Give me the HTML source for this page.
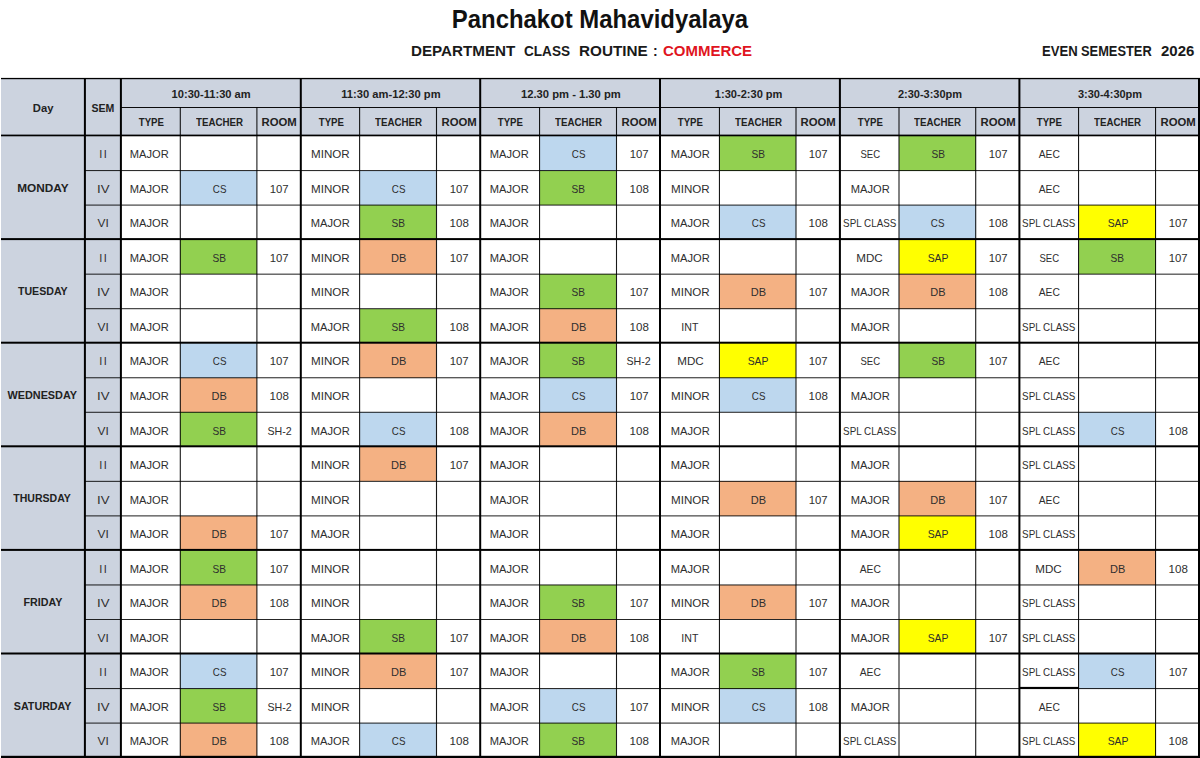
<!DOCTYPE html><html><head><meta charset="utf-8"><title>Class Routine</title><style>
*{margin:0;padding:0;box-sizing:border-box}
html,body{width:1200px;height:758px;overflow:hidden;background:#fff}
body{position:relative;font-family:"Liberation Sans",sans-serif;color:#333}
.a{position:absolute}
.t{position:absolute;display:flex;align-items:center;justify-content:center;white-space:nowrap}
.t span{display:inline-block}
.f{position:absolute}
.r{font-size:11px;color:#2e2e2e}
.b{font-weight:bold;font-size:11px;color:#222}

</style></head><body>
<div class="a" style="left:0;top:5px;width:1200px;text-align:center;font-size:25px;font-weight:bold;color:#111"><span style="display:inline-block;transform:scaleX(0.956)">Panchakot Mahavidyalaya</span></div>
<div class="a" style="left:411.22px;top:42.50px;font-size:14px;font-weight:bold;color:#1a1a1a;white-space:pre;transform-origin:0 0;transform:scaleX(1.085)">DEPARTMENT</div>
<div class="a" style="left:523.73px;top:42.50px;font-size:14px;font-weight:bold;color:#1a1a1a;white-space:pre;transform-origin:0 0;transform:scaleX(0.97)">CLASS</div>
<div class="a" style="left:578.71px;top:42.50px;font-size:14px;font-weight:bold;color:#1a1a1a;white-space:pre;transform-origin:0 0;transform:scaleX(1.09)">ROUTINE</div>
<div class="a" style="left:652.90px;top:42.50px;font-size:14px;font-weight:bold;color:#1a1a1a;white-space:pre;transform-origin:0 0;transform:scaleX(1.0)">:</div>
<div class="a" style="left:663.03px;top:42.50px;font-size:14px;font-weight:bold;color:#E0141E;white-space:pre;transform-origin:0 0;transform:scaleX(1.07)">COMMERCE</div>
<div class="a" style="left:1042.06px;top:42.60px;font-size:14px;font-weight:bold;color:#1a1a1a;white-space:pre;transform-origin:0 0;transform:scaleX(0.936)">EVEN</div>
<div class="a" style="left:1080.78px;top:42.60px;font-size:14px;font-weight:bold;color:#1a1a1a;white-space:pre;transform-origin:0 0;transform:scaleX(0.918)">SEMESTER</div>
<div class="a" style="left:1161.00px;top:42.60px;font-size:14px;font-weight:bold;color:#1a1a1a;white-space:pre;transform-origin:0 0;transform:scaleX(1.07)">2026</div>
<div class="f" style="left:1px;top:79px;width:1198px;height:57px;background:#CCD3DF"></div>
<div class="f" style="left:1px;top:135px;width:120px;height:622px;background:#CCD3DF"></div>
<div class="f" style="left:540px;top:136px;width:76px;height:35px;background:#BDD7EE"></div>
<div class="f" style="left:719px;top:136px;width:77px;height:35px;background:#92D050"></div>
<div class="f" style="left:899px;top:136px;width:77px;height:35px;background:#92D050"></div>
<div class="f" style="left:180px;top:171px;width:77px;height:34px;background:#BDD7EE"></div>
<div class="f" style="left:360px;top:171px;width:76px;height:34px;background:#BDD7EE"></div>
<div class="f" style="left:540px;top:171px;width:76px;height:34px;background:#92D050"></div>
<div class="f" style="left:360px;top:205px;width:76px;height:35px;background:#92D050"></div>
<div class="f" style="left:719px;top:205px;width:77px;height:35px;background:#BDD7EE"></div>
<div class="f" style="left:899px;top:205px;width:77px;height:35px;background:#BDD7EE"></div>
<div class="f" style="left:1079px;top:205px;width:77px;height:35px;background:#FFFF00"></div>
<div class="f" style="left:180px;top:239px;width:77px;height:35px;background:#92D050"></div>
<div class="f" style="left:360px;top:239px;width:76px;height:35px;background:#F4B183"></div>
<div class="f" style="left:899px;top:239px;width:77px;height:35px;background:#FFFF00"></div>
<div class="f" style="left:1079px;top:239px;width:77px;height:35px;background:#92D050"></div>
<div class="f" style="left:540px;top:274px;width:76px;height:35px;background:#92D050"></div>
<div class="f" style="left:719px;top:274px;width:77px;height:35px;background:#F4B183"></div>
<div class="f" style="left:899px;top:274px;width:77px;height:35px;background:#F4B183"></div>
<div class="f" style="left:360px;top:309px;width:76px;height:34px;background:#92D050"></div>
<div class="f" style="left:540px;top:309px;width:76px;height:34px;background:#F4B183"></div>
<div class="f" style="left:180px;top:343px;width:77px;height:35px;background:#BDD7EE"></div>
<div class="f" style="left:360px;top:343px;width:76px;height:35px;background:#F4B183"></div>
<div class="f" style="left:540px;top:343px;width:76px;height:35px;background:#92D050"></div>
<div class="f" style="left:719px;top:343px;width:77px;height:35px;background:#FFFF00"></div>
<div class="f" style="left:899px;top:343px;width:77px;height:35px;background:#92D050"></div>
<div class="f" style="left:180px;top:378px;width:77px;height:34px;background:#F4B183"></div>
<div class="f" style="left:540px;top:378px;width:76px;height:34px;background:#BDD7EE"></div>
<div class="f" style="left:719px;top:378px;width:77px;height:34px;background:#BDD7EE"></div>
<div class="f" style="left:180px;top:412px;width:77px;height:35px;background:#92D050"></div>
<div class="f" style="left:360px;top:412px;width:76px;height:35px;background:#BDD7EE"></div>
<div class="f" style="left:540px;top:412px;width:76px;height:35px;background:#F4B183"></div>
<div class="f" style="left:1079px;top:412px;width:77px;height:35px;background:#BDD7EE"></div>
<div class="f" style="left:360px;top:446px;width:76px;height:35px;background:#F4B183"></div>
<div class="f" style="left:719px;top:481px;width:77px;height:35px;background:#F4B183"></div>
<div class="f" style="left:899px;top:481px;width:77px;height:35px;background:#F4B183"></div>
<div class="f" style="left:180px;top:516px;width:77px;height:34px;background:#F4B183"></div>
<div class="f" style="left:899px;top:516px;width:77px;height:34px;background:#FFFF00"></div>
<div class="f" style="left:180px;top:550px;width:77px;height:35px;background:#92D050"></div>
<div class="f" style="left:1079px;top:550px;width:77px;height:35px;background:#F4B183"></div>
<div class="f" style="left:180px;top:585px;width:77px;height:34px;background:#F4B183"></div>
<div class="f" style="left:540px;top:585px;width:76px;height:34px;background:#92D050"></div>
<div class="f" style="left:719px;top:585px;width:77px;height:34px;background:#F4B183"></div>
<div class="f" style="left:360px;top:619px;width:76px;height:35px;background:#92D050"></div>
<div class="f" style="left:540px;top:619px;width:76px;height:35px;background:#F4B183"></div>
<div class="f" style="left:899px;top:619px;width:77px;height:35px;background:#FFFF00"></div>
<div class="f" style="left:180px;top:654px;width:77px;height:35px;background:#BDD7EE"></div>
<div class="f" style="left:360px;top:654px;width:76px;height:35px;background:#F4B183"></div>
<div class="f" style="left:719px;top:654px;width:77px;height:35px;background:#92D050"></div>
<div class="f" style="left:1079px;top:654px;width:77px;height:35px;background:#BDD7EE"></div>
<div class="f" style="left:180px;top:689px;width:77px;height:34px;background:#92D050"></div>
<div class="f" style="left:540px;top:689px;width:76px;height:34px;background:#BDD7EE"></div>
<div class="f" style="left:719px;top:689px;width:77px;height:34px;background:#BDD7EE"></div>
<div class="f" style="left:180px;top:723px;width:77px;height:35px;background:#F4B183"></div>
<div class="f" style="left:360px;top:723px;width:76px;height:35px;background:#BDD7EE"></div>
<div class="f" style="left:540px;top:723px;width:76px;height:35px;background:#92D050"></div>
<div class="f" style="left:1079px;top:723px;width:77px;height:35px;background:#FFFF00"></div>
<div class="f" style="left:1px;top:77px;width:1199px;height:1px;background:rgba(0,0,0,0.10)"></div>
<div class="f" style="left:1px;top:78px;width:1199px;height:1px;background:rgba(0,0,0,1.00)"></div>
<div class="f" style="left:1px;top:79px;width:1199px;height:1px;background:rgba(0,0,0,0.20)"></div>
<div class="f" style="left:121px;top:107px;width:1077px;height:1px;background:rgba(0,0,0,0.95)"></div>
<div class="f" style="left:1px;top:134px;width:1199px;height:1px;background:rgba(0,0,0,0.40)"></div>
<div class="f" style="left:1px;top:135px;width:1199px;height:1px;background:rgba(0,0,0,1.00)"></div>
<div class="f" style="left:1px;top:136px;width:1199px;height:1px;background:rgba(0,0,0,0.30)"></div>
<div class="f" style="left:85px;top:170px;width:1113px;height:1px;background:rgba(0,0,0,0.82)"></div>
<div class="f" style="left:85px;top:171px;width:1113px;height:1px;background:rgba(0,0,0,0.07)"></div>
<div class="f" style="left:85px;top:204px;width:1113px;height:1px;background:rgba(0,0,0,0.37)"></div>
<div class="f" style="left:85px;top:205px;width:1113px;height:1px;background:rgba(0,0,0,0.52)"></div>
<div class="f" style="left:1px;top:238px;width:1199px;height:1px;background:rgba(0,0,0,0.90)"></div>
<div class="f" style="left:1px;top:239px;width:1199px;height:1px;background:rgba(0,0,0,1.00)"></div>
<div class="f" style="left:1px;top:240px;width:1199px;height:1px;background:rgba(0,0,0,0.10)"></div>
<div class="f" style="left:85px;top:273px;width:1113px;height:1px;background:rgba(0,0,0,0.31)"></div>
<div class="f" style="left:85px;top:274px;width:1113px;height:1px;background:rgba(0,0,0,0.58)"></div>
<div class="f" style="left:85px;top:308px;width:1113px;height:1px;background:rgba(0,0,0,0.71)"></div>
<div class="f" style="left:85px;top:309px;width:1113px;height:1px;background:rgba(0,0,0,0.18)"></div>
<div class="f" style="left:1px;top:341px;width:1199px;height:1px;background:rgba(0,0,0,0.30)"></div>
<div class="f" style="left:1px;top:342px;width:1199px;height:1px;background:rgba(0,0,0,1.00)"></div>
<div class="f" style="left:1px;top:343px;width:1199px;height:1px;background:rgba(0,0,0,0.70)"></div>
<div class="f" style="left:85px;top:377px;width:1113px;height:1px;background:rgba(0,0,0,0.65)"></div>
<div class="f" style="left:85px;top:378px;width:1113px;height:1px;background:rgba(0,0,0,0.24)"></div>
<div class="f" style="left:85px;top:411px;width:1113px;height:1px;background:rgba(0,0,0,0.20)"></div>
<div class="f" style="left:85px;top:412px;width:1113px;height:1px;background:rgba(0,0,0,0.69)"></div>
<div class="f" style="left:1px;top:445px;width:1199px;height:1px;background:rgba(0,0,0,0.70)"></div>
<div class="f" style="left:1px;top:446px;width:1199px;height:1px;background:rgba(0,0,0,1.00)"></div>
<div class="f" style="left:1px;top:447px;width:1199px;height:1px;background:rgba(0,0,0,0.30)"></div>
<div class="f" style="left:85px;top:480px;width:1113px;height:1px;background:rgba(0,0,0,0.14)"></div>
<div class="f" style="left:85px;top:481px;width:1113px;height:1px;background:rgba(0,0,0,0.75)"></div>
<div class="f" style="left:85px;top:515px;width:1113px;height:1px;background:rgba(0,0,0,0.54)"></div>
<div class="f" style="left:85px;top:516px;width:1113px;height:1px;background:rgba(0,0,0,0.35)"></div>
<div class="f" style="left:1px;top:548px;width:1199px;height:1px;background:rgba(0,0,0,0.10)"></div>
<div class="f" style="left:1px;top:549px;width:1199px;height:1px;background:rgba(0,0,0,1.00)"></div>
<div class="f" style="left:1px;top:550px;width:1199px;height:1px;background:rgba(0,0,0,0.90)"></div>
<div class="f" style="left:85px;top:584px;width:1113px;height:1px;background:rgba(0,0,0,0.49)"></div>
<div class="f" style="left:85px;top:585px;width:1113px;height:1px;background:rgba(0,0,0,0.41)"></div>
<div class="f" style="left:85px;top:619px;width:1113px;height:1px;background:rgba(0,0,0,0.85)"></div>
<div class="f" style="left:1px;top:652px;width:1199px;height:1px;background:rgba(0,0,0,0.50)"></div>
<div class="f" style="left:1px;top:653px;width:1199px;height:1px;background:rgba(0,0,0,1.00)"></div>
<div class="f" style="left:1px;top:654px;width:1199px;height:1px;background:rgba(0,0,0,0.50)"></div>
<div class="f" style="left:85px;top:688px;width:1113px;height:1px;background:rgba(0,0,0,0.83)"></div>
<div class="f" style="left:85px;top:689px;width:1113px;height:1px;background:rgba(0,0,0,0.07)"></div>
<div class="f" style="left:85px;top:722px;width:1113px;height:1px;background:rgba(0,0,0,0.37)"></div>
<div class="f" style="left:85px;top:723px;width:1113px;height:1px;background:rgba(0,0,0,0.52)"></div>
<div class="f" style="left:1px;top:755px;width:1199px;height:1px;background:rgba(0,0,0,0.20)"></div>
<div class="f" style="left:1px;top:756px;width:1199px;height:1px;background:rgba(0,0,0,1.00)"></div>
<div class="f" style="left:1px;top:757px;width:1199px;height:1px;background:rgba(0,0,0,1.00)"></div>
<div class="f" style="left:1019px;top:686px;width:60px;height:1px;background:rgba(0,0,0,0.10)"></div>
<div class="f" style="left:1019px;top:687px;width:60px;height:1px;background:rgba(0,0,0,1.00)"></div>
<div class="f" style="left:1019px;top:688px;width:60px;height:1px;background:rgba(0,0,0,0.90)"></div>
<div class="f" style="left:83px;top:78px;width:1px;height:680px;background:rgba(0,0,0,0.10)"></div>
<div class="f" style="left:84px;top:78px;width:1px;height:680px;background:rgba(0,0,0,1.00)"></div>
<div class="f" style="left:85px;top:78px;width:1px;height:680px;background:rgba(0,0,0,0.90)"></div>
<div class="f" style="left:119px;top:78px;width:1px;height:680px;background:rgba(0,0,0,0.10)"></div>
<div class="f" style="left:120px;top:78px;width:1px;height:680px;background:rgba(0,0,0,1.00)"></div>
<div class="f" style="left:121px;top:78px;width:1px;height:680px;background:rgba(0,0,0,0.90)"></div>
<div class="f" style="left:299px;top:78px;width:1px;height:680px;background:rgba(0,0,0,0.20)"></div>
<div class="f" style="left:300px;top:78px;width:1px;height:680px;background:rgba(0,0,0,1.00)"></div>
<div class="f" style="left:301px;top:78px;width:1px;height:680px;background:rgba(0,0,0,0.80)"></div>
<div class="f" style="left:479px;top:78px;width:1px;height:680px;background:rgba(0,0,0,0.80)"></div>
<div class="f" style="left:480px;top:78px;width:1px;height:680px;background:rgba(0,0,0,1.00)"></div>
<div class="f" style="left:481px;top:78px;width:1px;height:680px;background:rgba(0,0,0,0.20)"></div>
<div class="f" style="left:659px;top:78px;width:1px;height:680px;background:rgba(0,0,0,1.00)"></div>
<div class="f" style="left:660px;top:78px;width:1px;height:680px;background:rgba(0,0,0,1.00)"></div>
<div class="f" style="left:838px;top:78px;width:1px;height:680px;background:rgba(0,0,0,0.10)"></div>
<div class="f" style="left:839px;top:78px;width:1px;height:680px;background:rgba(0,0,0,1.00)"></div>
<div class="f" style="left:840px;top:78px;width:1px;height:680px;background:rgba(0,0,0,0.90)"></div>
<div class="f" style="left:1018px;top:78px;width:1px;height:680px;background:rgba(0,0,0,0.60)"></div>
<div class="f" style="left:1019px;top:78px;width:1px;height:680px;background:rgba(0,0,0,1.00)"></div>
<div class="f" style="left:1020px;top:78px;width:1px;height:680px;background:rgba(0,0,0,0.40)"></div>
<div class="f" style="left:1198px;top:78px;width:1px;height:680px;background:rgba(0,0,0,1.00)"></div>
<div class="f" style="left:1199px;top:78px;width:1px;height:680px;background:rgba(0,0,0,1.00)"></div>
<div class="f" style="left:179px;top:107px;width:1px;height:650px;background:rgba(0,0,0,0.23)"></div>
<div class="f" style="left:180px;top:107px;width:1px;height:650px;background:rgba(0,0,0,0.77)"></div>
<div class="f" style="left:256px;top:107px;width:1px;height:650px;background:rgba(0,0,0,0.59)"></div>
<div class="f" style="left:257px;top:107px;width:1px;height:650px;background:rgba(0,0,0,0.40)"></div>
<div class="f" style="left:359px;top:107px;width:1px;height:650px;background:rgba(0,0,0,0.85)"></div>
<div class="f" style="left:360px;top:107px;width:1px;height:650px;background:rgba(0,0,0,0.14)"></div>
<div class="f" style="left:435px;top:107px;width:1px;height:650px;background:rgba(0,0,0,0.05)"></div>
<div class="f" style="left:436px;top:107px;width:1px;height:650px;background:rgba(0,0,0,0.90)"></div>
<div class="f" style="left:437px;top:107px;width:1px;height:650px;background:rgba(0,0,0,0.05)"></div>
<div class="f" style="left:539px;top:107px;width:1px;height:650px;background:rgba(0,0,0,0.90)"></div>
<div class="f" style="left:540px;top:107px;width:1px;height:650px;background:rgba(0,0,0,0.09)"></div>
<div class="f" style="left:615px;top:107px;width:1px;height:650px;background:rgba(0,0,0,0.04)"></div>
<div class="f" style="left:616px;top:107px;width:1px;height:650px;background:rgba(0,0,0,0.90)"></div>
<div class="f" style="left:617px;top:107px;width:1px;height:650px;background:rgba(0,0,0,0.04)"></div>
<div class="f" style="left:718px;top:107px;width:1px;height:650px;background:rgba(0,0,0,0.09)"></div>
<div class="f" style="left:719px;top:107px;width:1px;height:650px;background:rgba(0,0,0,0.90)"></div>
<div class="f" style="left:795px;top:107px;width:1px;height:650px;background:rgba(0,0,0,0.49)"></div>
<div class="f" style="left:796px;top:107px;width:1px;height:650px;background:rgba(0,0,0,0.49)"></div>
<div class="f" style="left:898px;top:107px;width:1px;height:650px;background:rgba(0,0,0,0.49)"></div>
<div class="f" style="left:899px;top:107px;width:1px;height:650px;background:rgba(0,0,0,0.49)"></div>
<div class="f" style="left:975px;top:107px;width:1px;height:650px;background:rgba(0,0,0,0.76)"></div>
<div class="f" style="left:976px;top:107px;width:1px;height:650px;background:rgba(0,0,0,0.23)"></div>
<div class="f" style="left:1078px;top:107px;width:1px;height:650px;background:rgba(0,0,0,0.90)"></div>
<div class="f" style="left:1079px;top:107px;width:1px;height:650px;background:rgba(0,0,0,0.09)"></div>
<div class="f" style="left:1155px;top:107px;width:1px;height:650px;background:rgba(0,0,0,0.90)"></div>
<div class="f" style="left:1156px;top:107px;width:1px;height:650px;background:rgba(0,0,0,0.09)"></div>
<div class="t b" style="left:1.0px;top:79.0px;width:83.0px;height:56.0px"><span style="transform:scaleX(1.02);position:relative;top:0.5px;left:1px">Day</span></div>
<div class="t b" style="left:86.0px;top:79.0px;width:34.0px;height:56.0px"><span style="transform:scaleX(0.96);position:relative;top:0.5px;left:0px">SEM</span></div>
<div class="t b" style="left:121.9px;top:79.0px;width:177.9px;height:28.0px"><span style="transform:scaleX(1.01);position:relative;top:0.5px;left:0px">10:30-11:30 am</span></div>
<div class="t b" style="left:121.9px;top:108.0px;width:58.4px;height:27.0px"><span style="transform:scaleX(0.876);position:relative;top:0px;left:0.4px">TYPE</span></div>
<div class="t b" style="left:180.3px;top:108.0px;width:76.6px;height:27.0px"><span style="transform:scaleX(0.885);position:relative;top:0px;left:0.6px">TEACHER</span></div>
<div class="t b" style="left:256.9px;top:108.0px;width:42.9px;height:27.0px"><span style="transform:scaleX(1.03);position:relative;top:0px;left:1.0px">ROOM</span></div>
<div class="t b" style="left:301.8px;top:79.0px;width:177.4px;height:28.0px"><span style="transform:scaleX(1.016);position:relative;top:0.5px;left:0.25px">11:30 am-12:30 pm</span></div>
<div class="t b" style="left:301.8px;top:108.0px;width:57.8px;height:27.0px"><span style="transform:scaleX(0.876);position:relative;top:0px;left:0.4px">TYPE</span></div>
<div class="t b" style="left:359.6px;top:108.0px;width:76.9px;height:27.0px"><span style="transform:scaleX(0.885);position:relative;top:0px;left:0.6px">TEACHER</span></div>
<div class="t b" style="left:436.5px;top:108.0px;width:42.7px;height:27.0px"><span style="transform:scaleX(1.03);position:relative;top:0px;left:1.0px">ROOM</span></div>
<div class="t b" style="left:481.2px;top:79.0px;width:177.8px;height:28.0px"><span style="transform:scaleX(1.02);position:relative;top:0.5px;left:1.0px">12.30 pm - 1.30 pm</span></div>
<div class="t b" style="left:481.2px;top:108.0px;width:58.3px;height:27.0px"><span style="transform:scaleX(0.876);position:relative;top:0px;left:0.4px">TYPE</span></div>
<div class="t b" style="left:539.5px;top:108.0px;width:77.0px;height:27.0px"><span style="transform:scaleX(0.885);position:relative;top:0px;left:0.6px">TEACHER</span></div>
<div class="t b" style="left:616.5px;top:108.0px;width:42.5px;height:27.0px"><span style="transform:scaleX(1.03);position:relative;top:0px;left:1.0px">ROOM</span></div>
<div class="t b" style="left:661.0px;top:79.0px;width:177.9px;height:28.0px"><span style="transform:scaleX(1.006);position:relative;top:0.5px;left:-1.7px">1:30-2:30 pm</span></div>
<div class="t b" style="left:661.0px;top:108.0px;width:58.5px;height:27.0px"><span style="transform:scaleX(0.876);position:relative;top:0px;left:0.4px">TYPE</span></div>
<div class="t b" style="left:719.5px;top:108.0px;width:76.5px;height:27.0px"><span style="transform:scaleX(0.885);position:relative;top:0px;left:0.6px">TEACHER</span></div>
<div class="t b" style="left:796.0px;top:108.0px;width:42.9px;height:27.0px"><span style="transform:scaleX(1.03);position:relative;top:0px;left:1.0px">ROOM</span></div>
<div class="t b" style="left:840.9px;top:79.0px;width:177.5px;height:28.0px"><span style="position:relative;top:0.5px;left:0.35px">2:30-3:30pm</span></div>
<div class="t b" style="left:840.9px;top:108.0px;width:58.1px;height:27.0px"><span style="transform:scaleX(0.876);position:relative;top:0px;left:0.4px">TYPE</span></div>
<div class="t b" style="left:899.0px;top:108.0px;width:76.7px;height:27.0px"><span style="transform:scaleX(0.885);position:relative;top:0px;left:0.6px">TEACHER</span></div>
<div class="t b" style="left:975.7px;top:108.0px;width:42.7px;height:27.0px"><span style="transform:scaleX(1.03);position:relative;top:0px;left:1.0px">ROOM</span></div>
<div class="t b" style="left:1020.4px;top:79.0px;width:177.6px;height:28.0px"><span style="position:relative;top:0.5px;left:0.85px">3:30-4:30pm</span></div>
<div class="t b" style="left:1020.4px;top:108.0px;width:58.1px;height:27.0px"><span style="transform:scaleX(0.876);position:relative;top:0px;left:0.4px">TYPE</span></div>
<div class="t b" style="left:1078.5px;top:108.0px;width:77.0px;height:27.0px"><span style="transform:scaleX(0.885);position:relative;top:0px;left:0.6px">TEACHER</span></div>
<div class="t b" style="left:1155.5px;top:108.0px;width:42.5px;height:27.0px"><span style="transform:scaleX(1.03);position:relative;top:0px;left:1.0px">ROOM</span></div>
<div class="t b" style="left:1.0px;top:135.5px;width:83.0px;height:103.6px"><span style="transform:scaleX(1.072);position:relative;top:0.3px;left:0px">MONDAY</span></div>
<div class="t b" style="left:1.0px;top:239.1px;width:83.0px;height:103.6px"><span style="transform:scaleX(0.965);position:relative;top:0.3px;left:0px">TUESDAY</span></div>
<div class="t b" style="left:1.0px;top:342.7px;width:83.0px;height:103.6px"><span style="transform:scaleX(0.986);position:relative;top:0.3px;left:0px">WEDNESDAY</span></div>
<div class="t b" style="left:1.0px;top:446.3px;width:83.0px;height:103.6px"><span style="transform:scaleX(0.957);position:relative;top:0.3px;left:0px">THURSDAY</span></div>
<div class="t b" style="left:1.0px;top:549.9px;width:83.0px;height:103.6px"><span style="transform:scaleX(0.974);position:relative;top:0.3px;left:0px">FRIDAY</span></div>
<div class="t b" style="left:1.0px;top:653.5px;width:83.0px;height:103.6px"><span style="transform:scaleX(0.973);position:relative;top:0.3px;left:0px">SATURDAY</span></div>
<div class="t r" style="left:86.0px;top:135.5px;width:34.0px;height:34.5px"><span style="position:relative;top:1.5px;left:0px;letter-spacing:1.5px;margin-right:-1.5px">II</span></div>
<div class="t r" style="left:121.9px;top:135.5px;width:58.4px;height:34.5px"><span style="transform:scaleX(1.01);position:relative;top:1.5px;left:-1.5px">MAJOR</span></div>
<div class="t r" style="left:301.8px;top:135.5px;width:57.8px;height:34.5px"><span style="transform:scaleX(1.054);position:relative;top:1.5px;left:0px">MINOR</span></div>
<div class="t r" style="left:481.2px;top:135.5px;width:58.3px;height:34.5px"><span style="transform:scaleX(1.01);position:relative;top:1.5px;left:-1.3px">MAJOR</span></div>
<div class="t r" style="left:539.5px;top:135.5px;width:77.0px;height:34.5px"><span style="transform:scaleX(0.89);position:relative;top:1.5px;left:0.6px">CS</span></div>
<div class="t r" style="left:616.5px;top:135.5px;width:42.5px;height:34.5px"><span style="transform:scaleX(1.03);position:relative;top:1.5px;left:1.0px">107</span></div>
<div class="t r" style="left:661.0px;top:135.5px;width:58.5px;height:34.5px"><span style="transform:scaleX(1.01);position:relative;top:1.5px;left:0px">MAJOR</span></div>
<div class="t r" style="left:719.5px;top:135.5px;width:76.5px;height:34.5px"><span style="transform:scaleX(0.92);position:relative;top:1.5px;left:0.6px">SB</span></div>
<div class="t r" style="left:796.0px;top:135.5px;width:42.9px;height:34.5px"><span style="transform:scaleX(1.03);position:relative;top:1.5px;left:1.0px">107</span></div>
<div class="t r" style="left:840.9px;top:135.5px;width:58.1px;height:34.5px"><span style="transform:scaleX(0.867);position:relative;top:1.5px;left:0px">SEC</span></div>
<div class="t r" style="left:899.0px;top:135.5px;width:76.7px;height:34.5px"><span style="transform:scaleX(0.92);position:relative;top:1.5px;left:0.6px">SB</span></div>
<div class="t r" style="left:975.7px;top:135.5px;width:42.7px;height:34.5px"><span style="transform:scaleX(1.03);position:relative;top:1.5px;left:1.0px">107</span></div>
<div class="t r" style="left:1020.4px;top:135.5px;width:58.1px;height:34.5px"><span style="transform:scaleX(0.936);position:relative;top:1.5px;left:-0.6px">AEC</span></div>
<div class="t r" style="left:86.0px;top:170.0px;width:34.0px;height:34.5px"><span style="transform:scaleX(1.2);position:relative;top:1.5px;left:0px">IV</span></div>
<div class="t r" style="left:121.9px;top:170.0px;width:58.4px;height:34.5px"><span style="transform:scaleX(1.01);position:relative;top:1.5px;left:-1.5px">MAJOR</span></div>
<div class="t r" style="left:180.3px;top:170.0px;width:76.6px;height:34.5px"><span style="transform:scaleX(0.89);position:relative;top:1.5px;left:0.6px">CS</span></div>
<div class="t r" style="left:256.9px;top:170.0px;width:42.9px;height:34.5px"><span style="transform:scaleX(1.03);position:relative;top:1.5px;left:1.0px">107</span></div>
<div class="t r" style="left:301.8px;top:170.0px;width:57.8px;height:34.5px"><span style="transform:scaleX(1.054);position:relative;top:1.5px;left:0px">MINOR</span></div>
<div class="t r" style="left:359.6px;top:170.0px;width:76.9px;height:34.5px"><span style="transform:scaleX(0.89);position:relative;top:1.5px;left:0.6px">CS</span></div>
<div class="t r" style="left:436.5px;top:170.0px;width:42.7px;height:34.5px"><span style="transform:scaleX(1.03);position:relative;top:1.5px;left:1.0px">107</span></div>
<div class="t r" style="left:481.2px;top:170.0px;width:58.3px;height:34.5px"><span style="transform:scaleX(1.01);position:relative;top:1.5px;left:-1.3px">MAJOR</span></div>
<div class="t r" style="left:539.5px;top:170.0px;width:77.0px;height:34.5px"><span style="transform:scaleX(0.92);position:relative;top:1.5px;left:0.6px">SB</span></div>
<div class="t r" style="left:616.5px;top:170.0px;width:42.5px;height:34.5px"><span style="transform:scaleX(1.05);position:relative;top:1.5px;left:1.0px">108</span></div>
<div class="t r" style="left:661.0px;top:170.0px;width:58.5px;height:34.5px"><span style="transform:scaleX(1.054);position:relative;top:1.5px;left:0px">MINOR</span></div>
<div class="t r" style="left:840.9px;top:170.0px;width:58.1px;height:34.5px"><span style="transform:scaleX(1.01);position:relative;top:1.5px;left:0px">MAJOR</span></div>
<div class="t r" style="left:1020.4px;top:170.0px;width:58.1px;height:34.5px"><span style="transform:scaleX(0.936);position:relative;top:1.5px;left:-0.6px">AEC</span></div>
<div class="t r" style="left:86.0px;top:204.6px;width:34.0px;height:34.5px"><span style="transform:scaleX(1.08);position:relative;top:1.5px;left:0px">VI</span></div>
<div class="t r" style="left:121.9px;top:204.6px;width:58.4px;height:34.5px"><span style="transform:scaleX(1.01);position:relative;top:1.5px;left:-1.5px">MAJOR</span></div>
<div class="t r" style="left:301.8px;top:204.6px;width:57.8px;height:34.5px"><span style="transform:scaleX(1.01);position:relative;top:1.5px;left:0px">MAJOR</span></div>
<div class="t r" style="left:359.6px;top:204.6px;width:76.9px;height:34.5px"><span style="transform:scaleX(0.92);position:relative;top:1.5px;left:0.6px">SB</span></div>
<div class="t r" style="left:436.5px;top:204.6px;width:42.7px;height:34.5px"><span style="transform:scaleX(1.05);position:relative;top:1.5px;left:1.0px">108</span></div>
<div class="t r" style="left:481.2px;top:204.6px;width:58.3px;height:34.5px"><span style="transform:scaleX(1.01);position:relative;top:1.5px;left:-1.3px">MAJOR</span></div>
<div class="t r" style="left:661.0px;top:204.6px;width:58.5px;height:34.5px"><span style="transform:scaleX(1.01);position:relative;top:1.5px;left:0px">MAJOR</span></div>
<div class="t r" style="left:719.5px;top:204.6px;width:76.5px;height:34.5px"><span style="transform:scaleX(0.89);position:relative;top:1.5px;left:0.6px">CS</span></div>
<div class="t r" style="left:796.0px;top:204.6px;width:42.9px;height:34.5px"><span style="transform:scaleX(1.05);position:relative;top:1.5px;left:1.0px">108</span></div>
<div class="t r" style="left:840.9px;top:204.6px;width:58.1px;height:34.5px"><span style="transform:scaleX(0.895);position:relative;top:1.5px;left:0px">SPL CLASS</span></div>
<div class="t r" style="left:899.0px;top:204.6px;width:76.7px;height:34.5px"><span style="transform:scaleX(0.89);position:relative;top:1.5px;left:0.6px">CS</span></div>
<div class="t r" style="left:975.7px;top:204.6px;width:42.7px;height:34.5px"><span style="transform:scaleX(1.05);position:relative;top:1.5px;left:1.0px">108</span></div>
<div class="t r" style="left:1020.4px;top:204.6px;width:58.1px;height:34.5px"><span style="transform:scaleX(0.895);position:relative;top:1.5px;left:-0.6px">SPL CLASS</span></div>
<div class="t r" style="left:1078.5px;top:204.6px;width:77.0px;height:34.5px"><span style="transform:scaleX(0.943);position:relative;top:1.5px;left:0.6px">SAP</span></div>
<div class="t r" style="left:1155.5px;top:204.6px;width:42.5px;height:34.5px"><span style="transform:scaleX(1.03);position:relative;top:1.5px;left:1.0px">107</span></div>
<div class="t r" style="left:86.0px;top:239.1px;width:34.0px;height:34.5px"><span style="position:relative;top:1.5px;left:0px;letter-spacing:1.5px;margin-right:-1.5px">II</span></div>
<div class="t r" style="left:121.9px;top:239.1px;width:58.4px;height:34.5px"><span style="transform:scaleX(1.01);position:relative;top:1.5px;left:-1.5px">MAJOR</span></div>
<div class="t r" style="left:180.3px;top:239.1px;width:76.6px;height:34.5px"><span style="transform:scaleX(0.92);position:relative;top:1.5px;left:0.6px">SB</span></div>
<div class="t r" style="left:256.9px;top:239.1px;width:42.9px;height:34.5px"><span style="transform:scaleX(1.03);position:relative;top:1.5px;left:1.0px">107</span></div>
<div class="t r" style="left:301.8px;top:239.1px;width:57.8px;height:34.5px"><span style="transform:scaleX(1.054);position:relative;top:1.5px;left:0px">MINOR</span></div>
<div class="t r" style="left:359.6px;top:239.1px;width:76.9px;height:34.5px"><span style="position:relative;top:1.5px;left:0.6px">DB</span></div>
<div class="t r" style="left:436.5px;top:239.1px;width:42.7px;height:34.5px"><span style="transform:scaleX(1.03);position:relative;top:1.5px;left:1.0px">107</span></div>
<div class="t r" style="left:481.2px;top:239.1px;width:58.3px;height:34.5px"><span style="transform:scaleX(1.01);position:relative;top:1.5px;left:-1.3px">MAJOR</span></div>
<div class="t r" style="left:661.0px;top:239.1px;width:58.5px;height:34.5px"><span style="transform:scaleX(1.01);position:relative;top:1.5px;left:0px">MAJOR</span></div>
<div class="t r" style="left:840.9px;top:239.1px;width:58.1px;height:34.5px"><span style="transform:scaleX(1.056);position:relative;top:1.5px;left:0px">MDC</span></div>
<div class="t r" style="left:899.0px;top:239.1px;width:76.7px;height:34.5px"><span style="transform:scaleX(0.943);position:relative;top:1.5px;left:0.6px">SAP</span></div>
<div class="t r" style="left:975.7px;top:239.1px;width:42.7px;height:34.5px"><span style="transform:scaleX(1.03);position:relative;top:1.5px;left:1.0px">107</span></div>
<div class="t r" style="left:1020.4px;top:239.1px;width:58.1px;height:34.5px"><span style="transform:scaleX(0.867);position:relative;top:1.5px;left:-0.6px">SEC</span></div>
<div class="t r" style="left:1078.5px;top:239.1px;width:77.0px;height:34.5px"><span style="transform:scaleX(0.92);position:relative;top:1.5px;left:0.6px">SB</span></div>
<div class="t r" style="left:1155.5px;top:239.1px;width:42.5px;height:34.5px"><span style="transform:scaleX(1.03);position:relative;top:1.5px;left:1.0px">107</span></div>
<div class="t r" style="left:86.0px;top:273.6px;width:34.0px;height:34.5px"><span style="transform:scaleX(1.2);position:relative;top:1.5px;left:0px">IV</span></div>
<div class="t r" style="left:121.9px;top:273.6px;width:58.4px;height:34.5px"><span style="transform:scaleX(1.01);position:relative;top:1.5px;left:-1.5px">MAJOR</span></div>
<div class="t r" style="left:301.8px;top:273.6px;width:57.8px;height:34.5px"><span style="transform:scaleX(1.054);position:relative;top:1.5px;left:0px">MINOR</span></div>
<div class="t r" style="left:481.2px;top:273.6px;width:58.3px;height:34.5px"><span style="transform:scaleX(1.01);position:relative;top:1.5px;left:-1.3px">MAJOR</span></div>
<div class="t r" style="left:539.5px;top:273.6px;width:77.0px;height:34.5px"><span style="transform:scaleX(0.92);position:relative;top:1.5px;left:0.6px">SB</span></div>
<div class="t r" style="left:616.5px;top:273.6px;width:42.5px;height:34.5px"><span style="transform:scaleX(1.03);position:relative;top:1.5px;left:1.0px">107</span></div>
<div class="t r" style="left:661.0px;top:273.6px;width:58.5px;height:34.5px"><span style="transform:scaleX(1.054);position:relative;top:1.5px;left:0px">MINOR</span></div>
<div class="t r" style="left:719.5px;top:273.6px;width:76.5px;height:34.5px"><span style="position:relative;top:1.5px;left:0.6px">DB</span></div>
<div class="t r" style="left:796.0px;top:273.6px;width:42.9px;height:34.5px"><span style="transform:scaleX(1.03);position:relative;top:1.5px;left:1.0px">107</span></div>
<div class="t r" style="left:840.9px;top:273.6px;width:58.1px;height:34.5px"><span style="transform:scaleX(1.01);position:relative;top:1.5px;left:0px">MAJOR</span></div>
<div class="t r" style="left:899.0px;top:273.6px;width:76.7px;height:34.5px"><span style="position:relative;top:1.5px;left:0.6px">DB</span></div>
<div class="t r" style="left:975.7px;top:273.6px;width:42.7px;height:34.5px"><span style="transform:scaleX(1.05);position:relative;top:1.5px;left:1.0px">108</span></div>
<div class="t r" style="left:1020.4px;top:273.6px;width:58.1px;height:34.5px"><span style="transform:scaleX(0.936);position:relative;top:1.5px;left:-0.6px">AEC</span></div>
<div class="t r" style="left:86.0px;top:308.2px;width:34.0px;height:34.5px"><span style="transform:scaleX(1.08);position:relative;top:1.5px;left:0px">VI</span></div>
<div class="t r" style="left:121.9px;top:308.2px;width:58.4px;height:34.5px"><span style="transform:scaleX(1.01);position:relative;top:1.5px;left:-1.5px">MAJOR</span></div>
<div class="t r" style="left:301.8px;top:308.2px;width:57.8px;height:34.5px"><span style="transform:scaleX(1.01);position:relative;top:1.5px;left:0px">MAJOR</span></div>
<div class="t r" style="left:359.6px;top:308.2px;width:76.9px;height:34.5px"><span style="transform:scaleX(0.92);position:relative;top:1.5px;left:0.6px">SB</span></div>
<div class="t r" style="left:436.5px;top:308.2px;width:42.7px;height:34.5px"><span style="transform:scaleX(1.05);position:relative;top:1.5px;left:1.0px">108</span></div>
<div class="t r" style="left:481.2px;top:308.2px;width:58.3px;height:34.5px"><span style="transform:scaleX(1.01);position:relative;top:1.5px;left:-1.3px">MAJOR</span></div>
<div class="t r" style="left:539.5px;top:308.2px;width:77.0px;height:34.5px"><span style="position:relative;top:1.5px;left:0.6px">DB</span></div>
<div class="t r" style="left:616.5px;top:308.2px;width:42.5px;height:34.5px"><span style="transform:scaleX(1.05);position:relative;top:1.5px;left:1.0px">108</span></div>
<div class="t r" style="left:661.0px;top:308.2px;width:58.5px;height:34.5px"><span style="transform:scaleX(0.96);position:relative;top:1.5px;left:0px">INT</span></div>
<div class="t r" style="left:840.9px;top:308.2px;width:58.1px;height:34.5px"><span style="transform:scaleX(1.01);position:relative;top:1.5px;left:0px">MAJOR</span></div>
<div class="t r" style="left:1020.4px;top:308.2px;width:58.1px;height:34.5px"><span style="transform:scaleX(0.895);position:relative;top:1.5px;left:-0.6px">SPL CLASS</span></div>
<div class="t r" style="left:86.0px;top:342.7px;width:34.0px;height:34.5px"><span style="position:relative;top:1.5px;left:0px;letter-spacing:1.5px;margin-right:-1.5px">II</span></div>
<div class="t r" style="left:121.9px;top:342.7px;width:58.4px;height:34.5px"><span style="transform:scaleX(1.01);position:relative;top:1.5px;left:-1.5px">MAJOR</span></div>
<div class="t r" style="left:180.3px;top:342.7px;width:76.6px;height:34.5px"><span style="transform:scaleX(0.89);position:relative;top:1.5px;left:0.6px">CS</span></div>
<div class="t r" style="left:256.9px;top:342.7px;width:42.9px;height:34.5px"><span style="transform:scaleX(1.03);position:relative;top:1.5px;left:1.0px">107</span></div>
<div class="t r" style="left:301.8px;top:342.7px;width:57.8px;height:34.5px"><span style="transform:scaleX(1.054);position:relative;top:1.5px;left:0px">MINOR</span></div>
<div class="t r" style="left:359.6px;top:342.7px;width:76.9px;height:34.5px"><span style="position:relative;top:1.5px;left:0.6px">DB</span></div>
<div class="t r" style="left:436.5px;top:342.7px;width:42.7px;height:34.5px"><span style="transform:scaleX(1.03);position:relative;top:1.5px;left:1.0px">107</span></div>
<div class="t r" style="left:481.2px;top:342.7px;width:58.3px;height:34.5px"><span style="transform:scaleX(1.01);position:relative;top:1.5px;left:-1.3px">MAJOR</span></div>
<div class="t r" style="left:539.5px;top:342.7px;width:77.0px;height:34.5px"><span style="transform:scaleX(0.92);position:relative;top:1.5px;left:0.6px">SB</span></div>
<div class="t r" style="left:616.5px;top:342.7px;width:42.5px;height:34.5px"><span style="transform:scaleX(0.967);position:relative;top:1.5px;left:1.0px">SH-2</span></div>
<div class="t r" style="left:661.0px;top:342.7px;width:58.5px;height:34.5px"><span style="transform:scaleX(1.056);position:relative;top:1.5px;left:0px">MDC</span></div>
<div class="t r" style="left:719.5px;top:342.7px;width:76.5px;height:34.5px"><span style="transform:scaleX(0.943);position:relative;top:1.5px;left:0.6px">SAP</span></div>
<div class="t r" style="left:796.0px;top:342.7px;width:42.9px;height:34.5px"><span style="transform:scaleX(1.03);position:relative;top:1.5px;left:1.0px">107</span></div>
<div class="t r" style="left:840.9px;top:342.7px;width:58.1px;height:34.5px"><span style="transform:scaleX(0.867);position:relative;top:1.5px;left:0px">SEC</span></div>
<div class="t r" style="left:899.0px;top:342.7px;width:76.7px;height:34.5px"><span style="transform:scaleX(0.92);position:relative;top:1.5px;left:0.6px">SB</span></div>
<div class="t r" style="left:975.7px;top:342.7px;width:42.7px;height:34.5px"><span style="transform:scaleX(1.03);position:relative;top:1.5px;left:1.0px">107</span></div>
<div class="t r" style="left:1020.4px;top:342.7px;width:58.1px;height:34.5px"><span style="transform:scaleX(0.936);position:relative;top:1.5px;left:-0.6px">AEC</span></div>
<div class="t r" style="left:86.0px;top:377.2px;width:34.0px;height:34.5px"><span style="transform:scaleX(1.2);position:relative;top:1.5px;left:0px">IV</span></div>
<div class="t r" style="left:121.9px;top:377.2px;width:58.4px;height:34.5px"><span style="transform:scaleX(1.01);position:relative;top:1.5px;left:-1.5px">MAJOR</span></div>
<div class="t r" style="left:180.3px;top:377.2px;width:76.6px;height:34.5px"><span style="position:relative;top:1.5px;left:0.6px">DB</span></div>
<div class="t r" style="left:256.9px;top:377.2px;width:42.9px;height:34.5px"><span style="transform:scaleX(1.05);position:relative;top:1.5px;left:1.0px">108</span></div>
<div class="t r" style="left:301.8px;top:377.2px;width:57.8px;height:34.5px"><span style="transform:scaleX(1.054);position:relative;top:1.5px;left:0px">MINOR</span></div>
<div class="t r" style="left:481.2px;top:377.2px;width:58.3px;height:34.5px"><span style="transform:scaleX(1.01);position:relative;top:1.5px;left:-1.3px">MAJOR</span></div>
<div class="t r" style="left:539.5px;top:377.2px;width:77.0px;height:34.5px"><span style="transform:scaleX(0.89);position:relative;top:1.5px;left:0.6px">CS</span></div>
<div class="t r" style="left:616.5px;top:377.2px;width:42.5px;height:34.5px"><span style="transform:scaleX(1.03);position:relative;top:1.5px;left:1.0px">107</span></div>
<div class="t r" style="left:661.0px;top:377.2px;width:58.5px;height:34.5px"><span style="transform:scaleX(1.054);position:relative;top:1.5px;left:0px">MINOR</span></div>
<div class="t r" style="left:719.5px;top:377.2px;width:76.5px;height:34.5px"><span style="transform:scaleX(0.89);position:relative;top:1.5px;left:0.6px">CS</span></div>
<div class="t r" style="left:796.0px;top:377.2px;width:42.9px;height:34.5px"><span style="transform:scaleX(1.05);position:relative;top:1.5px;left:1.0px">108</span></div>
<div class="t r" style="left:840.9px;top:377.2px;width:58.1px;height:34.5px"><span style="transform:scaleX(1.01);position:relative;top:1.5px;left:0px">MAJOR</span></div>
<div class="t r" style="left:1020.4px;top:377.2px;width:58.1px;height:34.5px"><span style="transform:scaleX(0.895);position:relative;top:1.5px;left:-0.6px">SPL CLASS</span></div>
<div class="t r" style="left:86.0px;top:411.8px;width:34.0px;height:34.5px"><span style="transform:scaleX(1.08);position:relative;top:1.5px;left:0px">VI</span></div>
<div class="t r" style="left:121.9px;top:411.8px;width:58.4px;height:34.5px"><span style="transform:scaleX(1.01);position:relative;top:1.5px;left:-1.5px">MAJOR</span></div>
<div class="t r" style="left:180.3px;top:411.8px;width:76.6px;height:34.5px"><span style="transform:scaleX(0.92);position:relative;top:1.5px;left:0.6px">SB</span></div>
<div class="t r" style="left:256.9px;top:411.8px;width:42.9px;height:34.5px"><span style="transform:scaleX(0.967);position:relative;top:1.5px;left:1.0px">SH-2</span></div>
<div class="t r" style="left:301.8px;top:411.8px;width:57.8px;height:34.5px"><span style="transform:scaleX(1.01);position:relative;top:1.5px;left:0px">MAJOR</span></div>
<div class="t r" style="left:359.6px;top:411.8px;width:76.9px;height:34.5px"><span style="transform:scaleX(0.89);position:relative;top:1.5px;left:0.6px">CS</span></div>
<div class="t r" style="left:436.5px;top:411.8px;width:42.7px;height:34.5px"><span style="transform:scaleX(1.05);position:relative;top:1.5px;left:1.0px">108</span></div>
<div class="t r" style="left:481.2px;top:411.8px;width:58.3px;height:34.5px"><span style="transform:scaleX(1.01);position:relative;top:1.5px;left:-1.3px">MAJOR</span></div>
<div class="t r" style="left:539.5px;top:411.8px;width:77.0px;height:34.5px"><span style="position:relative;top:1.5px;left:0.6px">DB</span></div>
<div class="t r" style="left:616.5px;top:411.8px;width:42.5px;height:34.5px"><span style="transform:scaleX(1.05);position:relative;top:1.5px;left:1.0px">108</span></div>
<div class="t r" style="left:661.0px;top:411.8px;width:58.5px;height:34.5px"><span style="transform:scaleX(1.01);position:relative;top:1.5px;left:0px">MAJOR</span></div>
<div class="t r" style="left:840.9px;top:411.8px;width:58.1px;height:34.5px"><span style="transform:scaleX(0.895);position:relative;top:1.5px;left:0px">SPL CLASS</span></div>
<div class="t r" style="left:1020.4px;top:411.8px;width:58.1px;height:34.5px"><span style="transform:scaleX(0.895);position:relative;top:1.5px;left:-0.6px">SPL CLASS</span></div>
<div class="t r" style="left:1078.5px;top:411.8px;width:77.0px;height:34.5px"><span style="transform:scaleX(0.89);position:relative;top:1.5px;left:0.6px">CS</span></div>
<div class="t r" style="left:1155.5px;top:411.8px;width:42.5px;height:34.5px"><span style="transform:scaleX(1.05);position:relative;top:1.5px;left:1.0px">108</span></div>
<div class="t r" style="left:86.0px;top:446.3px;width:34.0px;height:34.5px"><span style="position:relative;top:1.5px;left:0px;letter-spacing:1.5px;margin-right:-1.5px">II</span></div>
<div class="t r" style="left:121.9px;top:446.3px;width:58.4px;height:34.5px"><span style="transform:scaleX(1.01);position:relative;top:1.5px;left:-1.5px">MAJOR</span></div>
<div class="t r" style="left:301.8px;top:446.3px;width:57.8px;height:34.5px"><span style="transform:scaleX(1.054);position:relative;top:1.5px;left:0px">MINOR</span></div>
<div class="t r" style="left:359.6px;top:446.3px;width:76.9px;height:34.5px"><span style="position:relative;top:1.5px;left:0.6px">DB</span></div>
<div class="t r" style="left:436.5px;top:446.3px;width:42.7px;height:34.5px"><span style="transform:scaleX(1.03);position:relative;top:1.5px;left:1.0px">107</span></div>
<div class="t r" style="left:481.2px;top:446.3px;width:58.3px;height:34.5px"><span style="transform:scaleX(1.01);position:relative;top:1.5px;left:-1.3px">MAJOR</span></div>
<div class="t r" style="left:661.0px;top:446.3px;width:58.5px;height:34.5px"><span style="transform:scaleX(1.01);position:relative;top:1.5px;left:0px">MAJOR</span></div>
<div class="t r" style="left:840.9px;top:446.3px;width:58.1px;height:34.5px"><span style="transform:scaleX(1.01);position:relative;top:1.5px;left:0px">MAJOR</span></div>
<div class="t r" style="left:1020.4px;top:446.3px;width:58.1px;height:34.5px"><span style="transform:scaleX(0.895);position:relative;top:1.5px;left:-0.6px">SPL CLASS</span></div>
<div class="t r" style="left:86.0px;top:480.8px;width:34.0px;height:34.5px"><span style="transform:scaleX(1.2);position:relative;top:1.5px;left:0px">IV</span></div>
<div class="t r" style="left:121.9px;top:480.8px;width:58.4px;height:34.5px"><span style="transform:scaleX(1.01);position:relative;top:1.5px;left:-1.5px">MAJOR</span></div>
<div class="t r" style="left:301.8px;top:480.8px;width:57.8px;height:34.5px"><span style="transform:scaleX(1.054);position:relative;top:1.5px;left:0px">MINOR</span></div>
<div class="t r" style="left:481.2px;top:480.8px;width:58.3px;height:34.5px"><span style="transform:scaleX(1.01);position:relative;top:1.5px;left:-1.3px">MAJOR</span></div>
<div class="t r" style="left:661.0px;top:480.8px;width:58.5px;height:34.5px"><span style="transform:scaleX(1.054);position:relative;top:1.5px;left:0px">MINOR</span></div>
<div class="t r" style="left:719.5px;top:480.8px;width:76.5px;height:34.5px"><span style="position:relative;top:1.5px;left:0.6px">DB</span></div>
<div class="t r" style="left:796.0px;top:480.8px;width:42.9px;height:34.5px"><span style="transform:scaleX(1.03);position:relative;top:1.5px;left:1.0px">107</span></div>
<div class="t r" style="left:840.9px;top:480.8px;width:58.1px;height:34.5px"><span style="transform:scaleX(1.01);position:relative;top:1.5px;left:0px">MAJOR</span></div>
<div class="t r" style="left:899.0px;top:480.8px;width:76.7px;height:34.5px"><span style="position:relative;top:1.5px;left:0.6px">DB</span></div>
<div class="t r" style="left:975.7px;top:480.8px;width:42.7px;height:34.5px"><span style="transform:scaleX(1.03);position:relative;top:1.5px;left:1.0px">107</span></div>
<div class="t r" style="left:1020.4px;top:480.8px;width:58.1px;height:34.5px"><span style="transform:scaleX(0.936);position:relative;top:1.5px;left:-0.6px">AEC</span></div>
<div class="t r" style="left:86.0px;top:515.4px;width:34.0px;height:34.5px"><span style="transform:scaleX(1.08);position:relative;top:1.5px;left:0px">VI</span></div>
<div class="t r" style="left:121.9px;top:515.4px;width:58.4px;height:34.5px"><span style="transform:scaleX(1.01);position:relative;top:1.5px;left:-1.5px">MAJOR</span></div>
<div class="t r" style="left:180.3px;top:515.4px;width:76.6px;height:34.5px"><span style="position:relative;top:1.5px;left:0.6px">DB</span></div>
<div class="t r" style="left:256.9px;top:515.4px;width:42.9px;height:34.5px"><span style="transform:scaleX(1.03);position:relative;top:1.5px;left:1.0px">107</span></div>
<div class="t r" style="left:301.8px;top:515.4px;width:57.8px;height:34.5px"><span style="transform:scaleX(1.01);position:relative;top:1.5px;left:0px">MAJOR</span></div>
<div class="t r" style="left:481.2px;top:515.4px;width:58.3px;height:34.5px"><span style="transform:scaleX(1.01);position:relative;top:1.5px;left:-1.3px">MAJOR</span></div>
<div class="t r" style="left:661.0px;top:515.4px;width:58.5px;height:34.5px"><span style="transform:scaleX(1.01);position:relative;top:1.5px;left:0px">MAJOR</span></div>
<div class="t r" style="left:840.9px;top:515.4px;width:58.1px;height:34.5px"><span style="transform:scaleX(1.01);position:relative;top:1.5px;left:0px">MAJOR</span></div>
<div class="t r" style="left:899.0px;top:515.4px;width:76.7px;height:34.5px"><span style="transform:scaleX(0.943);position:relative;top:1.5px;left:0.6px">SAP</span></div>
<div class="t r" style="left:975.7px;top:515.4px;width:42.7px;height:34.5px"><span style="transform:scaleX(1.05);position:relative;top:1.5px;left:1.0px">108</span></div>
<div class="t r" style="left:1020.4px;top:515.4px;width:58.1px;height:34.5px"><span style="transform:scaleX(0.895);position:relative;top:1.5px;left:-0.6px">SPL CLASS</span></div>
<div class="t r" style="left:86.0px;top:549.9px;width:34.0px;height:34.5px"><span style="position:relative;top:1.5px;left:0px;letter-spacing:1.5px;margin-right:-1.5px">II</span></div>
<div class="t r" style="left:121.9px;top:549.9px;width:58.4px;height:34.5px"><span style="transform:scaleX(1.01);position:relative;top:1.5px;left:-1.5px">MAJOR</span></div>
<div class="t r" style="left:180.3px;top:549.9px;width:76.6px;height:34.5px"><span style="transform:scaleX(0.92);position:relative;top:1.5px;left:0.6px">SB</span></div>
<div class="t r" style="left:256.9px;top:549.9px;width:42.9px;height:34.5px"><span style="transform:scaleX(1.03);position:relative;top:1.5px;left:1.0px">107</span></div>
<div class="t r" style="left:301.8px;top:549.9px;width:57.8px;height:34.5px"><span style="transform:scaleX(1.054);position:relative;top:1.5px;left:0px">MINOR</span></div>
<div class="t r" style="left:481.2px;top:549.9px;width:58.3px;height:34.5px"><span style="transform:scaleX(1.01);position:relative;top:1.5px;left:-1.3px">MAJOR</span></div>
<div class="t r" style="left:661.0px;top:549.9px;width:58.5px;height:34.5px"><span style="transform:scaleX(1.01);position:relative;top:1.5px;left:0px">MAJOR</span></div>
<div class="t r" style="left:840.9px;top:549.9px;width:58.1px;height:34.5px"><span style="transform:scaleX(0.936);position:relative;top:1.5px;left:0px">AEC</span></div>
<div class="t r" style="left:1020.4px;top:549.9px;width:58.1px;height:34.5px"><span style="transform:scaleX(1.056);position:relative;top:1.5px;left:-0.6px">MDC</span></div>
<div class="t r" style="left:1078.5px;top:549.9px;width:77.0px;height:34.5px"><span style="position:relative;top:1.5px;left:0.6px">DB</span></div>
<div class="t r" style="left:1155.5px;top:549.9px;width:42.5px;height:34.5px"><span style="transform:scaleX(1.05);position:relative;top:1.5px;left:1.0px">108</span></div>
<div class="t r" style="left:86.0px;top:584.4px;width:34.0px;height:34.5px"><span style="transform:scaleX(1.2);position:relative;top:1.5px;left:0px">IV</span></div>
<div class="t r" style="left:121.9px;top:584.4px;width:58.4px;height:34.5px"><span style="transform:scaleX(1.01);position:relative;top:1.5px;left:-1.5px">MAJOR</span></div>
<div class="t r" style="left:180.3px;top:584.4px;width:76.6px;height:34.5px"><span style="position:relative;top:1.5px;left:0.6px">DB</span></div>
<div class="t r" style="left:256.9px;top:584.4px;width:42.9px;height:34.5px"><span style="transform:scaleX(1.05);position:relative;top:1.5px;left:1.0px">108</span></div>
<div class="t r" style="left:301.8px;top:584.4px;width:57.8px;height:34.5px"><span style="transform:scaleX(1.054);position:relative;top:1.5px;left:0px">MINOR</span></div>
<div class="t r" style="left:481.2px;top:584.4px;width:58.3px;height:34.5px"><span style="transform:scaleX(1.01);position:relative;top:1.5px;left:-1.3px">MAJOR</span></div>
<div class="t r" style="left:539.5px;top:584.4px;width:77.0px;height:34.5px"><span style="transform:scaleX(0.92);position:relative;top:1.5px;left:0.6px">SB</span></div>
<div class="t r" style="left:616.5px;top:584.4px;width:42.5px;height:34.5px"><span style="transform:scaleX(1.03);position:relative;top:1.5px;left:1.0px">107</span></div>
<div class="t r" style="left:661.0px;top:584.4px;width:58.5px;height:34.5px"><span style="transform:scaleX(1.054);position:relative;top:1.5px;left:0px">MINOR</span></div>
<div class="t r" style="left:719.5px;top:584.4px;width:76.5px;height:34.5px"><span style="position:relative;top:1.5px;left:0.6px">DB</span></div>
<div class="t r" style="left:796.0px;top:584.4px;width:42.9px;height:34.5px"><span style="transform:scaleX(1.03);position:relative;top:1.5px;left:1.0px">107</span></div>
<div class="t r" style="left:840.9px;top:584.4px;width:58.1px;height:34.5px"><span style="transform:scaleX(1.01);position:relative;top:1.5px;left:0px">MAJOR</span></div>
<div class="t r" style="left:1020.4px;top:584.4px;width:58.1px;height:34.5px"><span style="transform:scaleX(0.895);position:relative;top:1.5px;left:-0.6px">SPL CLASS</span></div>
<div class="t r" style="left:86.0px;top:619.0px;width:34.0px;height:34.5px"><span style="transform:scaleX(1.08);position:relative;top:1.5px;left:0px">VI</span></div>
<div class="t r" style="left:121.9px;top:619.0px;width:58.4px;height:34.5px"><span style="transform:scaleX(1.01);position:relative;top:1.5px;left:-1.5px">MAJOR</span></div>
<div class="t r" style="left:301.8px;top:619.0px;width:57.8px;height:34.5px"><span style="transform:scaleX(1.01);position:relative;top:1.5px;left:0px">MAJOR</span></div>
<div class="t r" style="left:359.6px;top:619.0px;width:76.9px;height:34.5px"><span style="transform:scaleX(0.92);position:relative;top:1.5px;left:0.6px">SB</span></div>
<div class="t r" style="left:436.5px;top:619.0px;width:42.7px;height:34.5px"><span style="transform:scaleX(1.03);position:relative;top:1.5px;left:1.0px">107</span></div>
<div class="t r" style="left:481.2px;top:619.0px;width:58.3px;height:34.5px"><span style="transform:scaleX(1.01);position:relative;top:1.5px;left:-1.3px">MAJOR</span></div>
<div class="t r" style="left:539.5px;top:619.0px;width:77.0px;height:34.5px"><span style="position:relative;top:1.5px;left:0.6px">DB</span></div>
<div class="t r" style="left:616.5px;top:619.0px;width:42.5px;height:34.5px"><span style="transform:scaleX(1.05);position:relative;top:1.5px;left:1.0px">108</span></div>
<div class="t r" style="left:661.0px;top:619.0px;width:58.5px;height:34.5px"><span style="transform:scaleX(0.96);position:relative;top:1.5px;left:0px">INT</span></div>
<div class="t r" style="left:840.9px;top:619.0px;width:58.1px;height:34.5px"><span style="transform:scaleX(1.01);position:relative;top:1.5px;left:0px">MAJOR</span></div>
<div class="t r" style="left:899.0px;top:619.0px;width:76.7px;height:34.5px"><span style="transform:scaleX(0.943);position:relative;top:1.5px;left:0.6px">SAP</span></div>
<div class="t r" style="left:975.7px;top:619.0px;width:42.7px;height:34.5px"><span style="transform:scaleX(1.03);position:relative;top:1.5px;left:1.0px">107</span></div>
<div class="t r" style="left:1020.4px;top:619.0px;width:58.1px;height:34.5px"><span style="transform:scaleX(0.895);position:relative;top:1.5px;left:-0.6px">SPL CLASS</span></div>
<div class="t r" style="left:86.0px;top:653.5px;width:34.0px;height:34.5px"><span style="position:relative;top:1.5px;left:0px;letter-spacing:1.5px;margin-right:-1.5px">II</span></div>
<div class="t r" style="left:121.9px;top:653.5px;width:58.4px;height:34.5px"><span style="transform:scaleX(1.01);position:relative;top:1.5px;left:-1.5px">MAJOR</span></div>
<div class="t r" style="left:180.3px;top:653.5px;width:76.6px;height:34.5px"><span style="transform:scaleX(0.89);position:relative;top:1.5px;left:0.6px">CS</span></div>
<div class="t r" style="left:256.9px;top:653.5px;width:42.9px;height:34.5px"><span style="transform:scaleX(1.03);position:relative;top:1.5px;left:1.0px">107</span></div>
<div class="t r" style="left:301.8px;top:653.5px;width:57.8px;height:34.5px"><span style="transform:scaleX(1.054);position:relative;top:1.5px;left:0px">MINOR</span></div>
<div class="t r" style="left:359.6px;top:653.5px;width:76.9px;height:34.5px"><span style="position:relative;top:1.5px;left:0.6px">DB</span></div>
<div class="t r" style="left:436.5px;top:653.5px;width:42.7px;height:34.5px"><span style="transform:scaleX(1.03);position:relative;top:1.5px;left:1.0px">107</span></div>
<div class="t r" style="left:481.2px;top:653.5px;width:58.3px;height:34.5px"><span style="transform:scaleX(1.01);position:relative;top:1.5px;left:-1.3px">MAJOR</span></div>
<div class="t r" style="left:661.0px;top:653.5px;width:58.5px;height:34.5px"><span style="transform:scaleX(1.01);position:relative;top:1.5px;left:0px">MAJOR</span></div>
<div class="t r" style="left:719.5px;top:653.5px;width:76.5px;height:34.5px"><span style="transform:scaleX(0.92);position:relative;top:1.5px;left:0.6px">SB</span></div>
<div class="t r" style="left:796.0px;top:653.5px;width:42.9px;height:34.5px"><span style="transform:scaleX(1.03);position:relative;top:1.5px;left:1.0px">107</span></div>
<div class="t r" style="left:840.9px;top:653.5px;width:58.1px;height:34.5px"><span style="transform:scaleX(0.936);position:relative;top:1.5px;left:0px">AEC</span></div>
<div class="t r" style="left:1020.4px;top:653.5px;width:58.1px;height:34.5px"><span style="transform:scaleX(0.895);position:relative;top:1.5px;left:-0.6px">SPL CLASS</span></div>
<div class="t r" style="left:1078.5px;top:653.5px;width:77.0px;height:34.5px"><span style="transform:scaleX(0.89);position:relative;top:1.5px;left:0.6px">CS</span></div>
<div class="t r" style="left:1155.5px;top:653.5px;width:42.5px;height:34.5px"><span style="transform:scaleX(1.03);position:relative;top:1.5px;left:1.0px">107</span></div>
<div class="t r" style="left:86.0px;top:688.0px;width:34.0px;height:34.5px"><span style="transform:scaleX(1.2);position:relative;top:1.5px;left:0px">IV</span></div>
<div class="t r" style="left:121.9px;top:688.0px;width:58.4px;height:34.5px"><span style="transform:scaleX(1.01);position:relative;top:1.5px;left:-1.5px">MAJOR</span></div>
<div class="t r" style="left:180.3px;top:688.0px;width:76.6px;height:34.5px"><span style="transform:scaleX(0.92);position:relative;top:1.5px;left:0.6px">SB</span></div>
<div class="t r" style="left:256.9px;top:688.0px;width:42.9px;height:34.5px"><span style="transform:scaleX(0.967);position:relative;top:1.5px;left:1.0px">SH-2</span></div>
<div class="t r" style="left:301.8px;top:688.0px;width:57.8px;height:34.5px"><span style="transform:scaleX(1.054);position:relative;top:1.5px;left:0px">MINOR</span></div>
<div class="t r" style="left:481.2px;top:688.0px;width:58.3px;height:34.5px"><span style="transform:scaleX(1.01);position:relative;top:1.5px;left:-1.3px">MAJOR</span></div>
<div class="t r" style="left:539.5px;top:688.0px;width:77.0px;height:34.5px"><span style="transform:scaleX(0.89);position:relative;top:1.5px;left:0.6px">CS</span></div>
<div class="t r" style="left:616.5px;top:688.0px;width:42.5px;height:34.5px"><span style="transform:scaleX(1.03);position:relative;top:1.5px;left:1.0px">107</span></div>
<div class="t r" style="left:661.0px;top:688.0px;width:58.5px;height:34.5px"><span style="transform:scaleX(1.054);position:relative;top:1.5px;left:0px">MINOR</span></div>
<div class="t r" style="left:719.5px;top:688.0px;width:76.5px;height:34.5px"><span style="transform:scaleX(0.89);position:relative;top:1.5px;left:0.6px">CS</span></div>
<div class="t r" style="left:796.0px;top:688.0px;width:42.9px;height:34.5px"><span style="transform:scaleX(1.05);position:relative;top:1.5px;left:1.0px">108</span></div>
<div class="t r" style="left:840.9px;top:688.0px;width:58.1px;height:34.5px"><span style="transform:scaleX(1.01);position:relative;top:1.5px;left:0px">MAJOR</span></div>
<div class="t r" style="left:1020.4px;top:688.0px;width:58.1px;height:34.5px"><span style="transform:scaleX(0.936);position:relative;top:1.5px;left:-0.6px">AEC</span></div>
<div class="t r" style="left:86.0px;top:722.6px;width:34.0px;height:34.5px"><span style="transform:scaleX(1.08);position:relative;top:1.5px;left:0px">VI</span></div>
<div class="t r" style="left:121.9px;top:722.6px;width:58.4px;height:34.5px"><span style="transform:scaleX(1.01);position:relative;top:1.5px;left:-1.5px">MAJOR</span></div>
<div class="t r" style="left:180.3px;top:722.6px;width:76.6px;height:34.5px"><span style="position:relative;top:1.5px;left:0.6px">DB</span></div>
<div class="t r" style="left:256.9px;top:722.6px;width:42.9px;height:34.5px"><span style="transform:scaleX(1.05);position:relative;top:1.5px;left:1.0px">108</span></div>
<div class="t r" style="left:301.8px;top:722.6px;width:57.8px;height:34.5px"><span style="transform:scaleX(1.01);position:relative;top:1.5px;left:0px">MAJOR</span></div>
<div class="t r" style="left:359.6px;top:722.6px;width:76.9px;height:34.5px"><span style="transform:scaleX(0.89);position:relative;top:1.5px;left:0.6px">CS</span></div>
<div class="t r" style="left:436.5px;top:722.6px;width:42.7px;height:34.5px"><span style="transform:scaleX(1.05);position:relative;top:1.5px;left:1.0px">108</span></div>
<div class="t r" style="left:481.2px;top:722.6px;width:58.3px;height:34.5px"><span style="transform:scaleX(1.01);position:relative;top:1.5px;left:-1.3px">MAJOR</span></div>
<div class="t r" style="left:539.5px;top:722.6px;width:77.0px;height:34.5px"><span style="transform:scaleX(0.92);position:relative;top:1.5px;left:0.6px">SB</span></div>
<div class="t r" style="left:616.5px;top:722.6px;width:42.5px;height:34.5px"><span style="transform:scaleX(1.05);position:relative;top:1.5px;left:1.0px">108</span></div>
<div class="t r" style="left:661.0px;top:722.6px;width:58.5px;height:34.5px"><span style="transform:scaleX(1.01);position:relative;top:1.5px;left:0px">MAJOR</span></div>
<div class="t r" style="left:840.9px;top:722.6px;width:58.1px;height:34.5px"><span style="transform:scaleX(0.895);position:relative;top:1.5px;left:0px">SPL CLASS</span></div>
<div class="t r" style="left:1020.4px;top:722.6px;width:58.1px;height:34.5px"><span style="transform:scaleX(0.895);position:relative;top:1.5px;left:-0.6px">SPL CLASS</span></div>
<div class="t r" style="left:1078.5px;top:722.6px;width:77.0px;height:34.5px"><span style="transform:scaleX(0.943);position:relative;top:1.5px;left:0.6px">SAP</span></div>
<div class="t r" style="left:1155.5px;top:722.6px;width:42.5px;height:34.5px"><span style="transform:scaleX(1.05);position:relative;top:1.5px;left:1.0px">108</span></div>
</body></html>
